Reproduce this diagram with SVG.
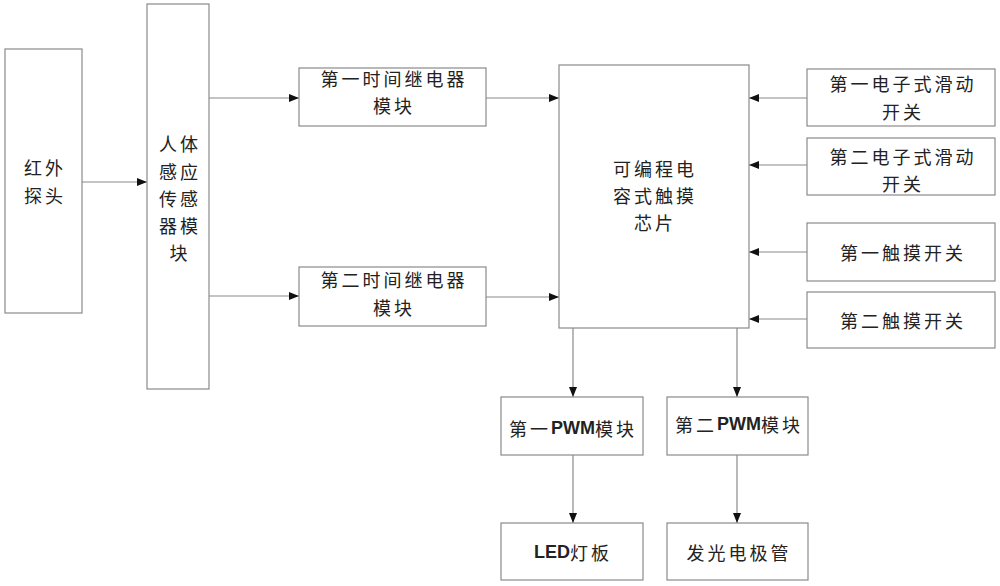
<svg xmlns="http://www.w3.org/2000/svg" width="1000" height="586" viewBox="0 0 1000 586">
<defs>
<style>
.box{fill:#fff;stroke:#8a8a8a;stroke-width:1.2}
.t{font-family:"Noto Sans CJK SC",sans-serif;font-size:18px;fill:#222;text-anchor:middle;dominant-baseline:central;letter-spacing:3px}
.lat{font-family:"Liberation Sans",sans-serif;font-weight:bold;letter-spacing:0}
.c{stroke:#8a8a8a;stroke-width:1.2;fill:none;marker-end:url(#ah)}
</style>
<marker id="ah" viewBox="0 0 10 8" refX="10" refY="4" markerWidth="10" markerHeight="8" markerUnits="userSpaceOnUse" orient="auto">
<path d="M0,0 L10,4 L0,8 Z" fill="#111"/>
</marker>
</defs>
<rect width="1000" height="586" fill="#fff"/>
<g id="connectors">
<line class="c" x1="82" y1="182" x2="147" y2="182"/>
<line class="c" x1="209" y1="98" x2="299" y2="98"/>
<line class="c" x1="209" y1="296" x2="299" y2="296"/>
<line class="c" x1="486" y1="98" x2="559" y2="98"/>
<line class="c" x1="486" y1="297" x2="559" y2="297"/>
<line class="c" x1="807" y1="98" x2="749" y2="98"/>
<line class="c" x1="807" y1="165" x2="749" y2="165"/>
<line class="c" x1="807" y1="252" x2="749" y2="252"/>
<line class="c" x1="807" y1="319" x2="749" y2="319"/>
<line class="c" x1="573" y1="328" x2="573" y2="397"/>
<line class="c" x1="737" y1="328" x2="737" y2="397"/>
<line class="c" x1="573" y1="455" x2="573" y2="523"/>
<line class="c" x1="737" y1="455" x2="737" y2="523"/>
</g>
<g id="hongwai">
<rect class="box" x="5" y="49" width="77" height="264"/>
<text class="t" x="45" y="167">红外</text>
<text class="t" x="45" y="195">探头</text>
</g>
<g id="renti">
<rect class="box" x="147" y="4" width="62" height="385"/>
<text class="t" x="180" y="143">人体</text>
<text class="t" x="180" y="171">感应</text>
<text class="t" x="180" y="198">传感</text>
<text class="t" x="180" y="225">器模</text>
<text class="t" x="180" y="252">块</text>
</g>
<g id="relay1">
<rect class="box" x="299" y="68" width="187" height="58"/>
<text class="t" x="394" y="78">第一时间继电器</text>
<text class="t" x="394" y="105">模块</text>
</g>
<g id="relay2">
<rect class="box" x="299" y="267" width="187" height="59"/>
<text class="t" x="394" y="279">第二时间继电器</text>
<text class="t" x="394" y="307">模块</text>
</g>
<g id="chip">
<rect class="box" x="559" y="65" width="190" height="263"/>
<text class="t" x="655" y="168">可编程电</text>
<text class="t" x="655" y="195">容式触摸</text>
<text class="t" x="655" y="222">芯片</text>
</g>
<g id="slide1">
<rect class="box" x="807" y="69" width="188" height="57"/>
<text class="t" x="903" y="83">第一电子式滑动</text>
<text class="t" x="903" y="111">开关</text>
</g>
<g id="slide2">
<rect class="box" x="807" y="138" width="188" height="57"/>
<text class="t" x="903" y="156">第二电子式滑动</text>
<text class="t" x="903" y="183">开关</text>
</g>
<g id="touch1">
<rect class="box" x="807" y="223" width="188" height="58"/>
<text class="t" x="903" y="252">第一触摸开关</text>
</g>
<g id="touch2">
<rect class="box" x="807" y="292" width="188" height="56"/>
<text class="t" x="903" y="320">第二触摸开关</text>
</g>
<g id="pwm1">
<rect class="box" x="501" y="397" width="142" height="58"/>
<text class="t" x="573" y="428">第一<tspan class="lat">PWM</tspan>模块</text>
</g>
<g id="pwm2">
<rect class="box" x="667" y="397" width="141" height="58"/>
<text class="t" x="739" y="424">第二<tspan class="lat">PWM</tspan>模块</text>
</g>
<g id="led">
<rect class="box" x="501" y="523" width="142" height="57"/>
<text class="t" x="573" y="552"><tspan class="lat">LED</tspan>灯板</text>
</g>
<g id="diode">
<rect class="box" x="667" y="523" width="141" height="57"/>
<text class="t" x="739" y="552">发光电极管</text>
</g>
</svg>
